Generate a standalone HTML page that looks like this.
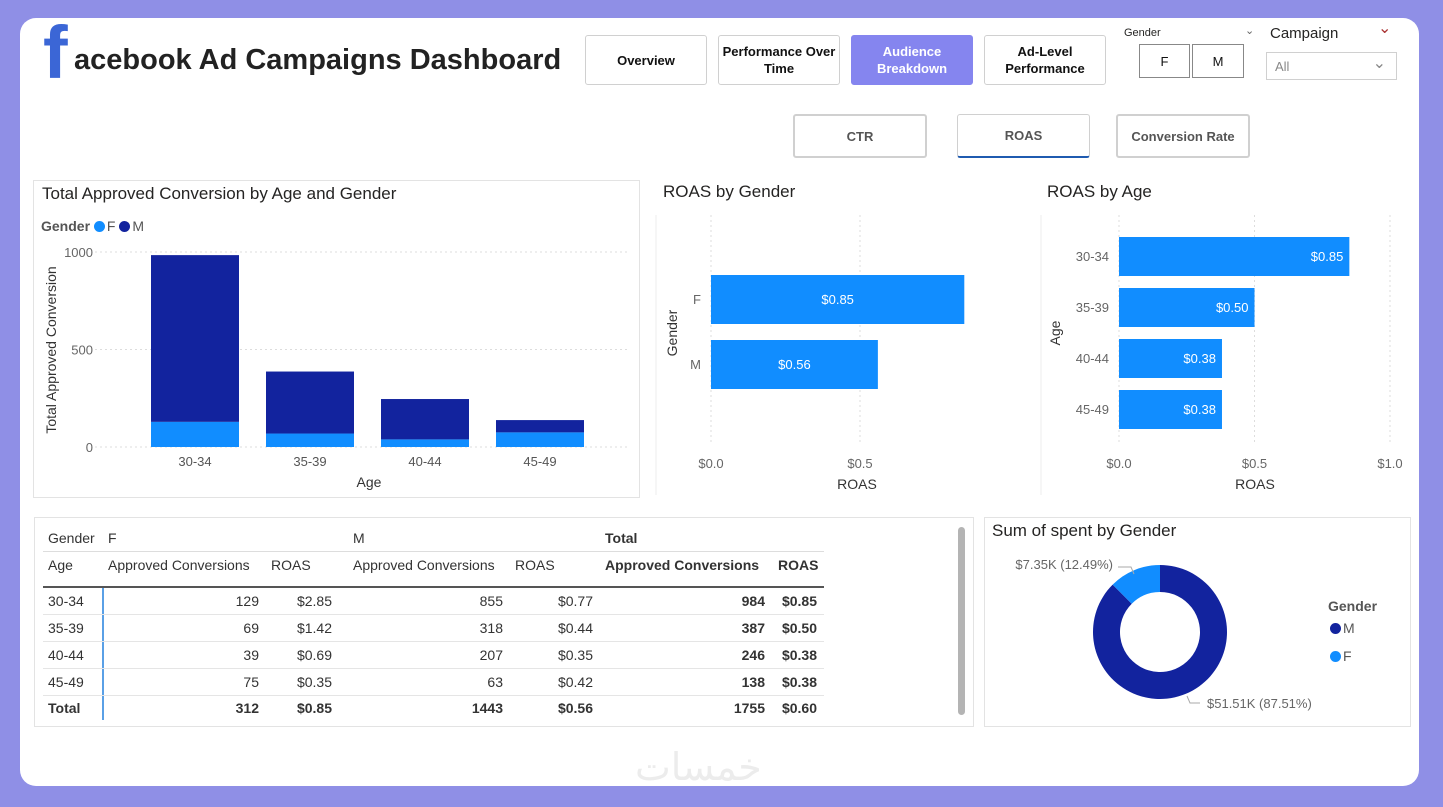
<!DOCTYPE html>
<html><head><meta charset="utf-8">
<style>
*{box-sizing:border-box;margin:0;padding:0}
body{width:1443px;height:807px;background:#8f8fe6;font-family:"Liberation Sans",sans-serif;position:relative;overflow:hidden;color:#252423}
.card{position:absolute;left:20px;top:18px;width:1399px;height:768px;background:#fff;border-radius:16px}
.abs{position:absolute}
.btn{position:absolute;border:1px solid #d0d0d0;border-radius:3px;background:#fff;font-size:13px;font-weight:bold;display:flex;align-items:center;justify-content:center;text-align:center;line-height:17px;color:#111}
.panel{position:absolute;border:1px solid #e3e3e3}
.t{position:absolute;white-space:nowrap}
.dot{display:inline-block;width:11px;height:11px;border-radius:50%;vertical-align:-1px;margin-right:2px}
svg text{font-family:"Liberation Sans",sans-serif}
.tbl td{position:absolute;font-size:14px;white-space:nowrap}
</style></head><body>
<div class="card"></div>
<div class="t" style="left:43px;top:10px;font-size:74px;font-weight:bold;color:#3b66d6;font-family:'Liberation Sans',sans-serif">f</div>
<div class="t" style="left:74px;top:44px;font-size:29px;font-weight:bold;color:#222">acebook Ad Campaigns Dashboard</div>

<div class="btn" style="left:585px;top:35px;width:122px;height:50px">Overview</div>
<div class="btn" style="left:718px;top:35px;width:122px;height:50px">Performance Over<br>Time</div>
<div class="btn" style="left:851px;top:35px;width:122px;height:50px;background:#8585ef;color:#fff;border-color:#8585ef">Audience<br>Breakdown</div>
<div class="btn" style="left:984px;top:35px;width:122px;height:50px">Ad-Level<br>Performance</div>

<div class="t" style="left:1124px;top:27px;font-size:11px">Gender</div>
<div class="t" style="left:1245px;top:24px;font-size:11px;color:#666">&#8964;</div>
<div class="btn" style="left:1139px;top:44px;width:51px;height:34px;font-weight:normal;border-color:#888;border-radius:0">F</div>
<div class="btn" style="left:1192px;top:44px;width:52px;height:34px;font-weight:normal;border-color:#888;border-radius:0">M</div>
<div class="t" style="left:1270px;top:25px;font-size:15px">Campaign</div>
<div class="t" style="left:1378px;top:18px;font-size:16px;color:#a33">&#8964;</div>
<div class="btn" style="left:1266px;top:52px;width:131px;height:28px;justify-content:flex-start;padding-left:8px;font-weight:normal;color:#888;border-radius:0">All<span style="position:absolute;right:10px;top:2px;font-size:16px">&#8964;</span></div>

<div class="btn" style="left:793px;top:114px;width:134px;height:44px;color:#555;border-width:2px">CTR</div>
<div class="btn" style="left:957px;top:114px;width:133px;height:44px;color:#555;border-width:1px;border-bottom:2px solid #1f5bb0">ROAS</div>
<div class="btn" style="left:1116px;top:114px;width:134px;height:44px;color:#555;border-width:2px">Conversion Rate</div>

<div class="panel" style="left:33px;top:180px;width:607px;height:318px"></div>
<svg class="abs" style="left:0;top:0" width="1443" height="807">
<g id="bars"></g><g id="g2"></g><g id="g3"></g><g id="donut"></g>
</svg>
<div class="t" style="left:42px;top:184px;font-size:17px">Total Approved Conversion by Age and Gender</div>
<div class="t" style="left:41px;top:218px;font-size:14px;color:#555"><b>Gender</b> <span class="dot" style="background:#118dff"></span>F <span class="dot" style="background:#12239e"></span>M</div>

<div class="t" style="left:663px;top:182px;font-size:17px">ROAS by Gender</div>
<div class="t" style="left:1047px;top:182px;font-size:17px">ROAS by Age</div>

<div class="panel" style="left:34px;top:517px;width:940px;height:210px"></div>
<div class="abs" style="left:958px;top:527px;width:7px;height:188px;background:#b4b4b4;border-radius:4px"></div>
<div class="abs" style="left:43px;top:551px;width:781px;height:1px;background:#ddd"></div>
<div class="abs" style="left:43px;top:586px;width:781px;height:2px;background:#555"></div>
<div class="abs" style="left:102px;top:588px;width:2px;height:132px;background:#5aa0e6"></div>
<table class="tbl"><tbody id="tb"></tbody></table>

<div class="panel" style="left:984px;top:517px;width:427px;height:210px"></div>
<div class="t" style="left:992px;top:521px;font-size:17px">Sum of spent by Gender</div>
<div class="t" style="left:1328px;top:598px;font-size:14px;font-weight:bold;color:#555">Gender</div>
<div class="t" style="left:1330px;top:620px;font-size:14px;color:#555"><span class="dot" style="background:#12239e"></span>M</div>
<div class="t" style="left:1330px;top:648px;font-size:14px;color:#555"><span class="dot" style="background:#118dff"></span>F</div>
<div class="t" style="left:635px;top:745px;font-size:38px;color:#ececec;font-family:'DejaVu Sans',sans-serif">خمسات</div>

<script>
const ages=["30-34","35-39","40-44","45-49"];
const convF=[129,69,39,75];
const convM=[855,318,207,63];
const convTicks=[0,500,1000];
const genders=["F","M"];
const roasGender=[0.85,0.56];
const roasAge=[0.85,0.50,0.38,0.38];
const spentLabels=["M","F"];
const spentValues=[51.51,7.35];
const tableRows=[["30-34","129","$2.85","855","$0.77","984","$0.85"],["35-39","69","$1.42","318","$0.44","387","$0.50"],["40-44","39","$0.69","207","$0.35","246","$0.38"],["45-49","75","$0.35","63","$0.42","138","$0.38"],["Total","312","$0.85","1443","$0.56","1755","$0.60"]];
const NS="http://www.w3.org/2000/svg";
function mk(p,tag,a,txt){const e=document.createElementNS(NS,tag);for(const k in a)e.setAttribute(k,a[k]);if(txt!=null)e.textContent=txt;p.appendChild(e);return e;}
const B=document.getElementById('bars');
const y=v=>447-v*0.195, xc=i=>195+i*115;
convTicks.forEach(t=>{const l=mk(B,'line',{x1:95,x2:630,y1:y(t),y2:y(t),stroke:'#ddd','stroke-dasharray':'2,3'});


const tx=mk(B,'text',{x:93,y:y(t)+5,'text-anchor':'end','font-size':13,fill:'#666'},t);

});
ages.forEach((a,i)=>{
const f=mk(B,'rect',{x:xc(i)-44,y:y(convF[i]),width:88,height:convF[i]*0.195,fill:'#118dff'});


const m=mk(B,'rect',{x:xc(i)-44,y:y(convF[i]+convM[i]),width:88,height:convM[i]*0.195,fill:'#12239e'});


const tx=mk(B,'text',{x:xc(i),y:466,'text-anchor':'middle','font-size':13,fill:'#555'},a);

});
let t1=mk(B,'text',{x:369,y:487,'text-anchor':'middle','font-size':14,fill:'#333'},'Age');


let t2=mk(B,'text',{x:56,y:350,'text-anchor':'middle','font-size':14,fill:'#333',transform:'rotate(-90 56 350)'},'Total Approved Conversion');


const G=document.getElementById('g2');
const gx=v=>711+v*298;
[0,0.5].forEach(t=>{mk(G,'line',{x1:gx(t),x2:gx(t),y1:215,y2:445,stroke:'#ddd','stroke-dasharray':'2,3'});
const tx=mk(G,'text',{x:gx(t),y:468,'text-anchor':'middle','font-size':13,fill:'#666'},'$'+t.toFixed(1));

});
genders.forEach((g,i)=>{const yy=275+i*65;
const r=mk(G,'rect',{x:711,y:yy,width:gx(roasGender[i])-711,height:49,fill:'#118dff'});


mk(G,'text',{x:(711+gx(roasGender[i]))/2,y:yy+29,'text-anchor':'middle','font-size':13,fill:'#fff'},'$'+roasGender[i].toFixed(2));
mk(G,'text',{x:701,y:yy+29,'text-anchor':'end','font-size':13,fill:'#666'},g);});
mk(G,'text',{x:857,y:489,'text-anchor':'middle','font-size':14,fill:'#333'},'ROAS');
mk(G,'text',{x:677,y:333,'text-anchor':'middle','font-size':14,fill:'#333',transform:'rotate(-90 677 333)'},'Gender');
mk(G,'line',{x1:656,x2:656,y1:215,y2:495,stroke:'#eee'});
const A=document.getElementById('g3');
const ax=v=>1119+v*271;
[0,0.5,1].forEach(t=>{mk(A,'line',{x1:ax(t),x2:ax(t),y1:215,y2:445,stroke:'#ddd','stroke-dasharray':'2,3'});
const tx=mk(A,'text',{x:ax(t),y:468,'text-anchor':'middle','font-size':13,fill:'#666'},'$'+t.toFixed(1));

});
ages.forEach((a,i)=>{const yy=237+i*51;
const r=mk(A,'rect',{x:1119,y:yy,width:ax(roasAge[i])-1119,height:39,fill:'#118dff'});


mk(A,'text',{x:ax(roasAge[i])-6,y:yy+24,'text-anchor':'end','font-size':13,fill:'#fff'},'$'+roasAge[i].toFixed(2));
mk(A,'text',{x:1109,y:yy+24,'text-anchor':'end','font-size':13,fill:'#666'},a);});
mk(A,'text',{x:1255,y:489,'text-anchor':'middle','font-size':14,fill:'#333'},'ROAS');
mk(A,'text',{x:1060,y:333,'text-anchor':'middle','font-size':14,fill:'#333',transform:'rotate(-90 1060 333)'},'Age');
mk(A,'line',{x1:1041,x2:1041,y1:215,y2:495,stroke:'#eee'});
const D=document.getElementById('donut');
const cx=1160,cy=632,R=67,r0=40;
const tot=spentValues.reduce((a,b)=>a+b,0);let ang=0;
const cols=['#12239e','#118dff'];
spentValues.forEach((v,i)=>{const a0=ang,a1=ang+v/tot*2*Math.PI;ang=a1;
const p=(rad,a)=>[cx+rad*Math.sin(a),cy-rad*Math.cos(a)];
const [x0,y0]=p(R,a0),[x1,y1]=p(R,a1),[x2,y2]=p(r0,a1),[x3,y3]=p(r0,a0);const lg=(a1-a0)>Math.PI?1:0;
const s=mk(D,'path',{d:`M${x0},${y0}A${R},${R} 0 ${lg} 1 ${x1},${y1}L${x2},${y2}A${r0},${r0} 0 ${lg} 0 ${x3},${y3}Z`,fill:cols[i]});


const pct=(v/tot*100).toFixed(2);
if(i==0){mk(D,'polyline',{points:'1187,696 1190,703 1200,703',fill:'none',stroke:'#aaa'});
mk(D,'text',{x:1207,y:708,'font-size':13,fill:'#666'},'$'+v.toFixed(2)+'K ('+pct+'%)');}
else{mk(D,'polyline',{points:'1118,567 1131,567 1134,574',fill:'none',stroke:'#aaa'});
mk(D,'text',{x:1113,y:569,'text-anchor':'end','font-size':13,fill:'#666'},'$'+v.toFixed(2)+'K ('+pct+'%)');}});
const tb=document.getElementById('tb');
function cell(txt,x,yy,bold,right){const td=document.createElement('td');td.textContent=txt;
td.style.top=yy+'px';if(right){td.style.left=(x-100)+'px';td.style.width='100px';td.style.textAlign='right';}else td.style.left=x+'px';
if(bold)td.style.fontWeight='bold';td.style.color='#333';tb.appendChild(td);return td;}
cell('Gender',48,530);cell('F',108,530);cell('M',353,530);cell('Total',605,530,true);
cell('Age',48,557);cell('Approved Conversions',108,557);cell('ROAS',271,557);cell('Approved Conversions',353,557);cell('ROAS',515,557);cell('Approved Conversions',605,557,true);cell('ROAS',778,557,true);
const rx=[259,332,503,593,765,817];
tableRows.forEach((r,i)=>{const yy=593+i*27-(i==4?1:0);const tt=r[0]=='Total';
cell(r[0],48,yy,tt);r.slice(1).forEach((v,j)=>cell(v,rx[j],yy,tt||j>=4,true));
if(i<4){const d=document.createElement('div');d.className='abs';d.style.cssText=`left:43px;top:${yy+21}px;width:781px;height:1px;background:#e5e5e5`;document.body.appendChild(d);}});
</script>
</body></html>
